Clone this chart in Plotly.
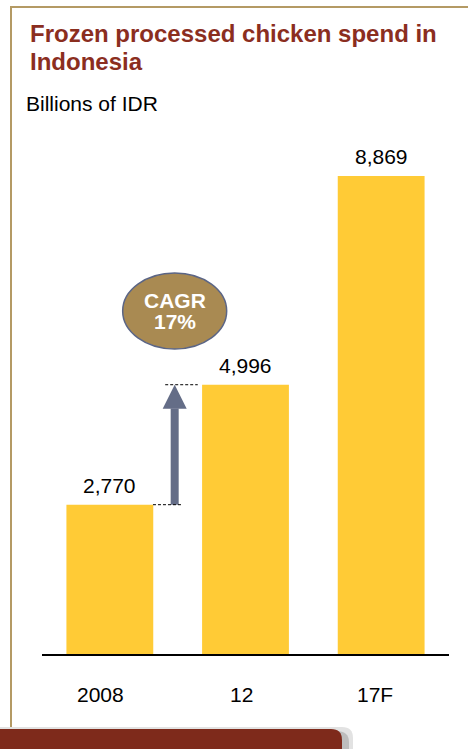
import plotly.graph_objects as go

categories = ["2008", "12", "17F"]
values = [2770, 4996, 8869]
value_labels = ["2,770", "4,996", "8,869"]
cagr_lines = ["CAGR", "17%"]
title_lines = ["Frozen processed chicken spend in", "Indonesia"]
unit_text = "Billions of IDR"

W, H = 468, 749
ML, MR, MT, MB = 42, 19, 130, 95
PW, PH = W - ML - MR, H - MT - MB
YMAX = 9722
ppu = PH / YMAX            # pixels per data unit (y)
ppx = PW / 3.0             # pixels per category (x)

def xp(px):  # pixel -> paper x
    return (px - ML) / PW

def yp(py):  # pixel -> paper y
    return (H - MB - py) / PH

BAR = "#FFCB36"
DARK_RED = "#7E2A1B"
TITLE = "#8B2E1F"
FRAME = "#B49A64"
ARROW = "#646D87"
FONT = "Liberation Sans, Arial, sans-serif"

fig = go.Figure()
fig.add_trace(go.Bar(x=list(range(len(categories))), y=values, marker_color=BAR,
                     marker_line_width=0, width=0.64, hoverinfo="skip"))

annotations = []
for i, (v, t) in enumerate(zip(values, value_labels)):
    annotations.append(dict(x=i, y=v, xref="x", yref="y", text=t, showarrow=False,
                            yanchor="bottom", yshift=6, font=dict(family=FONT, size=21, color="#000")))

# Title and unit
for k, (line, cy_px) in enumerate(zip(title_lines, [33, 61])):
    annotations.append(dict(x=xp(28), y=yp(cy_px), xref="paper", yref="paper", text="<b>" + line + "</b>",
                            showarrow=False, xanchor="left", yanchor="middle", align="left",
                            font=dict(family=FONT, size=24, color=TITLE)))
annotations.append(dict(x=xp(24), y=yp(104), xref="paper", yref="paper", text=unit_text,
                        showarrow=False, xanchor="left", yanchor="middle",
                        font=dict(family=FONT, size=21, color="#000")))
# x tick labels (slightly left of bar centres, as in the source)
for i, (c, dx) in enumerate(zip(categories, [-9, -4, -6])):
    annotations.append(dict(x=i, y=yp(694), xref="x", yref="paper", text=c, showarrow=False,
                            xshift=dx, yanchor="middle", font=dict(family=FONT, size=21, color="#000")))

# CAGR arrow geometry derived from data values
xa = 0.478
v0, v1 = values[0], values[1]
shaft_hw = 4 / ppx
head_hw = 12 / ppx
head_len = 24 / ppu
shapes = []
shapes.append(dict(type="rect", xref="x", yref="y", x0=xa - shaft_hw, x1=xa + shaft_hw,
                   y0=v0, y1=v1 - head_len + 5, fillcolor=ARROW, line_width=0))
shapes.append(dict(type="path", xref="x", yref="y",
                   path=f"M {xa - head_hw},{v1 - head_len} L {xa + head_hw},{v1 - head_len} L {xa},{v1} Z",
                   fillcolor=ARROW, line_width=0))
# dashed guide lines
shapes.append(dict(type="line", xref="x", yref="y", x0=xa - 0.16, x1=xa + 0.06, y0=v0, y1=v0,
                   line=dict(color="#000", width=1, dash="3px,2px")))
shapes.append(dict(type="line", xref="x", yref="y", x0=xa - 0.07, x1=xa + 0.17, y0=v1, y1=v1,
                   line=dict(color="#000", width=1, dash="3px,2px")))
# CAGR bubble
cy = (H - MB - 311) / ppu
shapes.append(dict(type="circle", xref="x", yref="y", x0=xa - 52 / ppx, x1=xa + 52 / ppx,
                   y0=cy - 38 / ppu, y1=cy + 38 / ppu, fillcolor="#A98A52",
                   line=dict(color="#5B6585", width=1.5)))
for line, cpx in zip(cagr_lines, [300, 321]):
    annotations.append(dict(x=xa, y=yp(cpx), xref="x", yref="paper", text="<b>" + line + "</b>",
                            showarrow=False, yanchor="middle",
                            font=dict(family=FONT, size=21, color="#FFFFFF")))

# frame lines
shapes.append(dict(type="line", xref="paper", yref="paper", x0=xp(10), x1=xp(468), y0=yp(7), y1=yp(7),
                   line=dict(color=FRAME, width=2)))
shapes.append(dict(type="line", xref="paper", yref="paper", x0=xp(11), x1=xp(11), y0=yp(6), y1=yp(729),
                   line=dict(color=FRAME, width=2)))
# bottom bar with soft shadow
shapes.append(dict(type="path", xref="paper", yref="paper",
                   path=(f"M {xp(0)},{yp(749)} L {xp(0)},{yp(727)} L {xp(342)},{yp(727)} "
                         f"Q {xp(353)},{yp(727)} {xp(353)},{yp(738)} L {xp(353)},{yp(749)} Z"),
                   fillcolor="#E2E2E2", line_width=0, layer="above"))
shapes.append(dict(type="path", xref="paper", yref="paper",
                   path=(f"M {xp(336)},{yp(749)} L {xp(336)},{yp(731)} "
                         f"Q {xp(349)},{yp(731)} {xp(349)},{yp(742)} L {xp(349)},{yp(749)} Z"),
                   fillcolor="#BDBDBD", line_width=0, layer="above"))
shapes.append(dict(type="path", xref="paper", yref="paper",
                   path=(f"M {xp(0)},{yp(749)} L {xp(0)},{yp(729)} L {xp(331)},{yp(729)} "
                         f"Q {xp(342)},{yp(729)} {xp(342)},{yp(740)} L {xp(342)},{yp(749)} Z"),
                   fillcolor=DARK_RED, line_width=0, layer="above"))

fig.update_layout(
    width=W, height=H, margin=dict(l=ML, r=MR, t=MT, b=MB),
    paper_bgcolor="white", plot_bgcolor="white", showlegend=False,
    xaxis=dict(range=[-0.5, 2.5], tickvals=list(range(len(categories))), ticktext=categories,
               showticklabels=False,
               showline=True, linecolor="#000", linewidth=1.5, showgrid=False, zeroline=False,
               ticks="", fixedrange=True),
    yaxis=dict(range=[0, YMAX], visible=False, showgrid=False, zeroline=False, fixedrange=True),
    annotations=annotations, shapes=shapes,
)

fig.write_html("out.html", config={"displayModeBar": False},
               post_script="document.body.style.margin='0';document.body.style.overflow='hidden';")
